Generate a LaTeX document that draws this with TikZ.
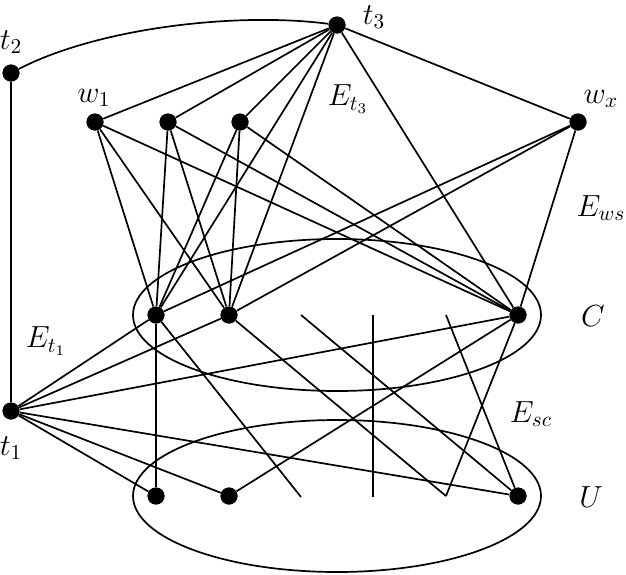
\documentclass[tikz,border=0pt]{standalone}
\begin{document}
\begin{tikzpicture}[x=0.5pt,y=-0.5pt,
  dot/.style={circle,fill=black,inner sep=0pt,minimum size=8.5pt},
  edge/.style={line width=0.85pt},
  lbl/.style={font=\Large,inner sep=0pt,scale=1.06}]
\useasboundingbox (0,0) rectangle (626,574);
% sets
\draw[edge] (337,315) ellipse [x radius=102pt, y radius=38pt];
\draw[edge] (337,496) ellipse [x radius=102pt, y radius=38pt];
% vertices
\node[dot] (t2) at (11,73) {};
\node[dot] (t3) at (337,25) {};
\node[dot] (w1) at (95,122) {};
\node[dot] (w2) at (168,122) {};
\node[dot] (w3) at (240,122) {};
\node[dot] (wx) at (578,122) {};
\node[dot] (c1) at (156,315) {};
\node[dot] (c2) at (229,315) {};
\node[dot] (c3) at (518,315) {};
\node[dot] (t1) at (11,411) {};
\node[dot] (u1) at (156,496) {};
\node[dot] (u2) at (229,496) {};
\node[dot] (u3) at (518,496) {};
% free ends
\coordinate (fa) at (301,315);
\coordinate (fb) at (373,315);
\coordinate (fc) at (446,315);
\coordinate (ga) at (301,497);
\coordinate (gb) at (373,497);
\coordinate (gc) at (446,496);
% edges
\begin{scope}[edge]
\draw (t2) .. controls (100,27) and (240,12) .. (t3);
\draw (t2) -- (t1);
\foreach \v in {w1,w2,w3,wx,c1,c2,c3} \draw (t3) -- (\v);
\foreach \w in {w1,w2,w3,wx} {\foreach \c in {c1,c2,c3} \draw (\w) -- (\c);}
\foreach \v in {c1,c2,c3,u1,u2,u3} \draw (t1) -- (\v);
\draw (c1) -- (u1);
\draw (c1) -- (ga);
\draw (c2) -- (gc);
\draw (c3) -- (gc);
\draw (c3) -- (u2);
\draw (fa) -- (u3);
\draw (fc) -- (u3);
\draw (fb) -- (gb);
\end{scope}
% redraw dots on top
\foreach \v in {t1,t2,t3,w1,w2,w3,wx,c1,c2,c3,u1,u2,u3} \fill (\v) circle (4.25pt);
% labels
\node[lbl] (lt2) at (11,42) {$t_2$};
\node[lbl] (lt3) at (374,17) {$t_3$};
\node[lbl] (lw1) at (94,98) {$w_1$};
\node[lbl] (lwx) at (601,99) {$w_x$};
\node[lbl] (let3) at (348,99) {$E_{t_3}$};
\node[lbl] (lews) at (601,208) {$E_{ws}$};
\node[lbl] (lC) at (593,316) {$C$};
\node[lbl] (let1) at (46,341) {$E_{t_1}$};
\node[lbl] (lesc) at (531,414) {$E_{sc}$};
\node[lbl] (lt1) at (11,448) {$t_1$};
\node[lbl] (lU) at (591,497) {$U$};
\end{tikzpicture}
\end{document}
